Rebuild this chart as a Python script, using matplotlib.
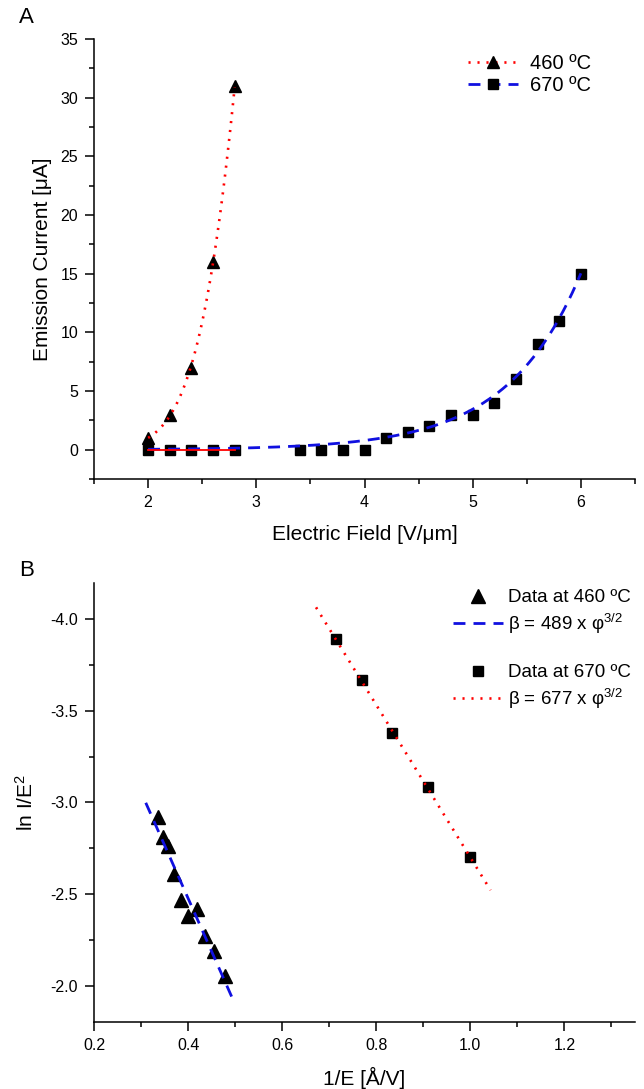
import numpy as np
import matplotlib.pyplot as plt
from matplotlib.lines import Line2D
from matplotlib.ticker import MultipleLocator, FormatStrFormatter

plt.rcParams['font.family'] = ['Liberation Sans', 'DejaVu Sans']
plt.rcParams['axes.unicode_minus'] = False
plt.rcParams['mathtext.default'] = 'regular'

# panel A: emission current vs electric field
e460 = [2.0, 2.2, 2.4, 2.6, 2.8]
i460 = [1.0, 3.0, 7.0, 16.0, 31.0]
e670 = [2.0, 2.2, 2.4, 2.6, 2.8, 3.4, 3.6, 3.8, 4.0, 4.2, 4.4, 4.6, 4.8,
        5.0, 5.2, 5.4, 5.6, 5.8, 6.0]
i670 = [0.0, 0.0, 0.0, 0.0, 0.0, 0.0, 0.0, 0.0, 0.0, 1.0, 1.5, 2.0, 3.0,
        3.0, 4.0, 6.0, 9.0, 11.0, 15.0]

# panel B: Fowler-Nordheim plot
inv460 = [0.335, 0.346, 0.358, 0.370, 0.385, 0.400, 0.418, 0.435, 0.455, 0.478]
fn460 = [-2.92, -2.81, -2.76, -2.61, -2.47, -2.38, -2.42, -2.27, -2.19, -2.05]
inv670 = [0.714, 0.769, 0.833, 0.909, 1.0]
fn670 = [-3.89, -3.67, -3.38, -3.085, -2.70]

labels_a = ['460 ºC', '670 ºC']
labels_b = ['Data at 460 ºC', 'β = 489 x φ$^{3/2}$',
            'Data at 670 ºC', 'β = 677 x φ$^{3/2}$']

dot = (0, (0.8, 2.6))
dash = (0, (4.3, 2.9))

fig = plt.figure(figsize=(6.44, 10.89), dpi=100)
ax1 = fig.add_axes([0.146, 0.560, 0.840, 0.4043])
ax2 = fig.add_axes([0.146, 0.0613, 0.840, 0.4037])

for ax in (ax1, ax2):
    ax.spines['top'].set_visible(False)
    ax.spines['right'].set_visible(False)
    ax.spines['left'].set_linewidth(1.1)
    ax.spines['bottom'].set_linewidth(1.1)
    ax.tick_params(which='major', length=6.5, width=1.1, labelsize=11.5, pad=5)
    ax.tick_params(which='minor', length=3.6, width=1.1)

# ---- A ----
x = np.asarray(e460)
c = np.polyfit(x, np.log(i460), 2)
xs = np.linspace(2.0, 2.8, 100)
ax1.plot(xs, np.exp(np.polyval(c, xs)), color='red', lw=1.9, linestyle=dot, zorder=3)

x = np.asarray(e670)
y = np.asarray(i670)
m = y > 0
c2 = np.polyfit(x[m], np.log(y[m]), 1, w=y[m])
xs = np.linspace(2.0, 6.0, 200)
ax1.plot(xs, np.exp(np.polyval(c2, xs)), color='#1010e0', lw=2.0, linestyle=dash, zorder=3)
ax1.plot(e670[:5], i670[:5], color='red', lw=1.3, zorder=4)

ax1.plot(e460, i460, linestyle='none', marker='^', ms=9, color='black', zorder=2)
ax1.plot(e670, i670, linestyle='none', marker='s', ms=6.5, color='black', zorder=2)

ax1.set_xlim(1.5, 6.5)
ax1.set_ylim(-2.5, 35)
ax1.xaxis.set_major_locator(MultipleLocator(1))
ax1.xaxis.set_minor_locator(MultipleLocator(0.5))
ax1.yaxis.set_major_locator(MultipleLocator(5))
ax1.yaxis.set_minor_locator(MultipleLocator(2.5))
ax1.set_xlabel('Electric Field [V/μm]', fontsize=15, labelpad=11)
ax1.set_ylabel('Emission Current [μA]', fontsize=15, labelpad=6)

h_a = [Line2D([], [], color='red', lw=1.9, linestyle=dot, marker='^', ms=9,
              mfc='black', mec='black'),
       Line2D([], [], color='#1010e0', lw=2.0, linestyle=dash, marker='s', ms=6.5,
              mfc='black', mec='black')]
fig.legend(h_a, labels_a, loc='upper left', bbox_to_anchor=(468 / 644, 1 - 54 / 1089),
           frameon=False, fontsize=14.5, handlelength=2.5, handletextpad=0.6,
           labelspacing=0.15, borderpad=0, borderaxespad=0, numpoints=1)

fig.text(0.03, 0.984, 'A', fontsize=16, va='center')

# ---- B ----
t1, = ax2.plot(inv460, fn460, linestyle='none', marker='^', ms=9.5, color='black', zorder=2)
c3 = np.polyfit(inv460, fn460, 1)
xs = np.linspace(0.31, 0.495, 50)
l1, = ax2.plot(xs, np.polyval(c3, xs), color='#1010e0', lw=2.0, linestyle=dash, zorder=3)

s1, = ax2.plot(inv670, fn670, linestyle='none', marker='s', ms=6.5, color='black', zorder=2)
c4 = np.polyfit(inv670, fn670, 1)
xs = np.linspace(0.672, 1.043, 50)
l2, = ax2.plot(xs, np.polyval(c4, xs), color='red', lw=1.9, linestyle=dot, zorder=3)

ax2.set_xlim(0.2, 1.35)
ax2.set_ylim(-1.8, -4.2)
ax2.xaxis.set_major_locator(MultipleLocator(0.2))
ax2.xaxis.set_minor_locator(MultipleLocator(0.1))
ax2.yaxis.set_major_locator(MultipleLocator(0.5))
ax2.yaxis.set_minor_locator(MultipleLocator(0.25))
ax2.xaxis.set_major_formatter(FormatStrFormatter('%.1f'))
ax2.yaxis.set_major_formatter(FormatStrFormatter('%.1f'))
ax2.set_xlabel('1/E [Å/V]', fontsize=15, labelpad=10)
ax2.set_ylabel('ln I/E$^{2}$', fontsize=15, labelpad=10)

kw = dict(loc='upper left', frameon=False, fontsize=13.5, handlelength=2.65,
          handletextpad=0.3, labelspacing=0.3, borderpad=0, borderaxespad=0)
leg1 = fig.legend([t1, l1], labels_b[:2], bbox_to_anchor=(453 / 644, 1 - 589 / 1089), **kw)
leg2 = fig.legend([s1, l2], labels_b[2:], bbox_to_anchor=(453 / 644, 1 - 664 / 1089), **kw)

fig.text(0.03, 1 - 571 / 1089, 'B', fontsize=16, va='center')

fig.savefig('out.png', dpi=100)
